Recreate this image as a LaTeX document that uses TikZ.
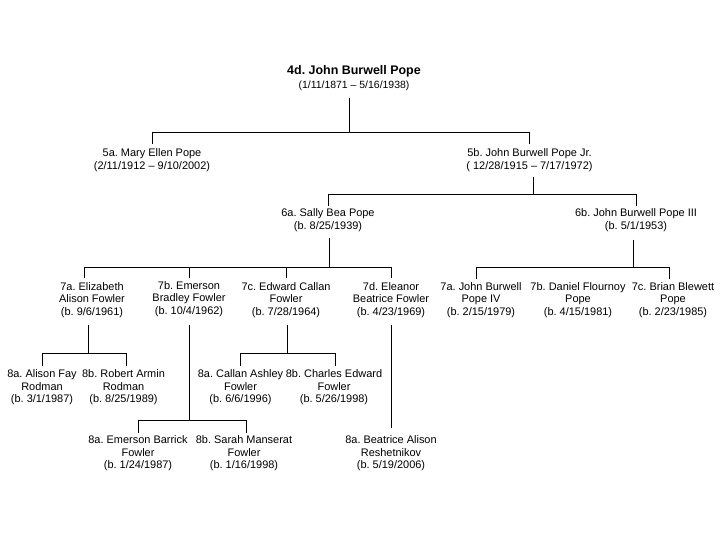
\documentclass[tikz,border=0pt]{standalone}
\usepackage{fontspec}
\setmainfont{Liberation Sans}
\frenchspacing
\begin{document}
\begin{tikzpicture}[x=1bp,y=-1bp,
  person/.style={font=\fontsize{11}{12.5}\selectfont, align=center, inner sep=0pt, text=black},
  link/.style={draw=black, line width=0.9bp}]
\useasboundingbox (0,0) rectangle (720,540);
\fill[white] (0,0) rectangle (720,540);
% nodes
\node[person] (n4d) at (354,78.5) {{\fontsize{12.5}{14}\selectfont\bfseries 4d. John Burwell Pope}\\[1.5bp]{\fontsize{10.5}{12.5}\selectfont (1/11/1871 -- 5/16/1938)}};
\node[person] (n5a) at (152,160) {5a. Mary Ellen Pope\\(2/11/1912 -- 9/10/2002)};
\node[person] (n5b) at (529.5,160) {5b. John Burwell Pope Jr.\\( 12/28/1915 -- 7/17/1972)};
\node[person] (n6a) at (328,220) {6a. Sally Bea Pope\\(b. 8/25/1939)};
\node[person] (n6b) at (636,220) {6b. John Burwell Pope III\\(b. 5/1/1953)};
\node[person] (n7a) at (92,300) {7a. Elizabeth\\Alison Fowler\\(b. 9/6/1961)};
\node[person] (n7b) at (189,299) {7b. Emerson\\Bradley Fowler\\(b. 10/4/1962)};
\node[person] (n7c) at (286,300) {7c. Edward Callan\\Fowler\\(b. 7/28/1964)};
\node[person] (n7d) at (391,300) {7d. Eleanor\\Beatrice Fowler\\(b. 4/23/1969)};
\node[person] (n7e) at (481,300) {7a. John Burwell\\Pope IV\\(b. 2/15/1979)};
\node[person] (n7f) at (578,300) {7b. Daniel Flournoy\\Pope\\(b. 4/15/1981)};
\node[person] (n7g) at (673,300) {7c. Brian Blewett\\Pope\\(b. 2/23/1985)};
\node[person] (n8a) at (42,387.5) {8a. Alison Fay\\Rodman\\(b. 3/1/1987)};
\node[person] (n8b) at (123.5,387.5) {8b. Robert Armin\\Rodman\\(b. 8/25/1989)};
\node[person] (n8c) at (240.5,387.5) {8a. Callan Ashley\\Fowler\\(b. 6/6/1996)};
\node[person] (n8d) at (334,387.5) {8b. Charles Edward\\Fowler\\(b. 5/26/1998)};
\node[person] (n8e) at (138,453.5) {8a. Emerson Barrick\\Fowler\\(b. 1/24/1987)};
\node[person] (n8f) at (244,453.5) {8b. Sarah Manserat\\Fowler\\(b. 1/16/1998)};
\node[person] (n8g) at (391,453.5) {8a. Beatrice Alison\\Reshetnikov\\(b. 5/19/2006)};
% junctions
\coordinate (j4d) at (349,132);
\coordinate (j5b) at (533,194);
\coordinate (j6a) at (329,267);
\coordinate (j6b) at (633,267);
\coordinate (j7a) at (88,353);
\coordinate (j7b) at (189,420);
\coordinate (j7c) at (287,353);
% generation 4 -> 5
\draw[link] (j4d |- n4d.south) ++(0,7) -- (j4d);
\draw[link] (n5a |- j4d) -- (n5b |- j4d);
\draw[link] (n5a |- j4d) -- ++(0,12);
\draw[link] (n5b |- j4d) -- ++(0,12);
% 5b -> 6
\draw[link] (j5b |- n5b.south) ++(0,5) -- (j5b);
\draw[link] (n6a |- j5b) -- (n6b |- j5b);
\draw[link] (n6a |- j5b) -- ++(0,12);
\draw[link] (n6b |- j5b) -- ++(0,12);
% 6a -> 7
\draw[link] (j6a |- n6a.south) ++(0,6) -- (j6a);
\draw[link] ([xshift=-8]n7a |- j6a) -- (n7d |- j6a);
\draw[link] ([xshift=-8]n7a |- j6a) -- ++(0,11);
\draw[link] (n7b |- j6a) -- ++(0,11);
\draw[link] (n7c |- j6a) -- ++(0,11);
\draw[link] (n7d |- j6a) -- ++(0,11);
% 6b -> 7
\draw[link] (j6b |- n6b.south) ++(0,8) -- (j6b);
\draw[link] ([xshift=-5]n7e |- j6b) -- ([xshift=-4]n7g |- j6b);
\draw[link] ([xshift=-5]n7e |- j6b) -- ++(0,12);
\draw[link] ([xshift=-4]n7g |- j6b) -- ++(0,12);
% 7a -> 8
\draw[link] (j7a |- n7a.south) ++(0,7) -- (j7a);
\draw[link] (n8a |- j7a) -- ([xshift=3]n8b |- j7a);
\draw[link] (n8a |- j7a) -- ++(0,13);
\draw[link] ([xshift=3]n8b |- j7a) -- ++(0,13);
% 7b -> 8
\draw[link] (j7b |- n7b.south) ++(0,8) -- (j7b);
\draw[link] (n8e |- j7b) -- ([xshift=2]n8f |- j7b);
\draw[link] (n8e |- j7b) -- ++(0,13);
\draw[link] ([xshift=2]n8f |- j7b) -- ++(0,13);
% 7c -> 8
\draw[link] (j7c |- n7c.south) ++(0,7) -- (j7c);
\draw[link] (n8c |- j7c) -- ([xshift=1.5]n8d |- j7c);
\draw[link] (n8c |- j7c) -- ++(0,13);
\draw[link] ([xshift=1.5]n8d |- j7c) -- ++(0,13);
% 7d -> 8
\draw[link] (n7d.south) ++(0,7) -- ([yshift=8]n8g.north);
\end{tikzpicture}
\end{document}
